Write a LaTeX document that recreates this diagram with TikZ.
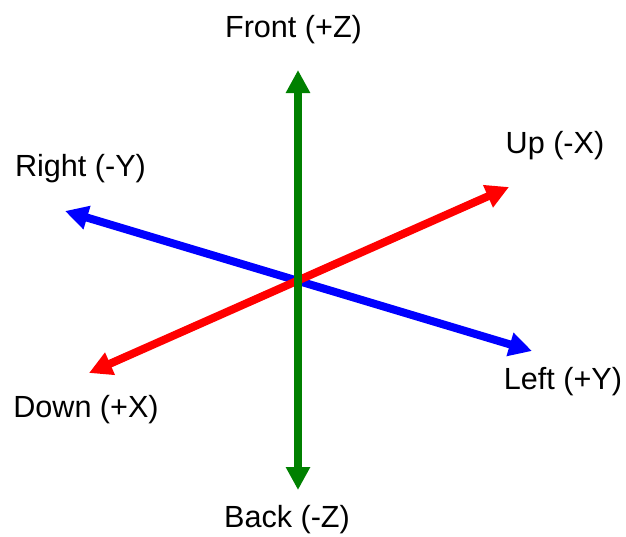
\documentclass[tikz,border=0pt]{standalone}
\usepackage{fontspec}
\setmainfont{Liberation Sans}
\usetikzlibrary{arrows.meta}
\definecolor{axgreen}{RGB}{0,128,0}

\begin{document}
\begin{tikzpicture}[x=1pt,y=-1pt,every node/.style={font=\fontsize{30.6}{36}\selectfont,anchor=base,inner sep=0pt},
  ax/.style={line width=8pt,{Triangle[length=23pt,width=23pt]}-{Triangle[length=23pt,width=23pt]}}]
\useasboundingbox (0,0) rectangle (626,536);
%------------- axis ends
\coordinate (front) at (298,70);  \coordinate (back) at (298,490);
\coordinate (right) at (65,211);  \coordinate (left) at (532,351);
\coordinate (down) at (89,373);   \coordinate (up) at (509,187);
%------------- axes
\draw[ax,blue] (right) -- (left);
\draw[ax,red] (down) -- (up);
\draw[ax,axgreen] (front) -- (back);
%------------- labels
\node (lfront) at (293.5,37) {Front (+Z)};
\node (lback) at (287,527) {Back (-Z)};
\node (lright) at (80.5,176) {Right (-Y)};
\node (lup) at (555,153) {Up (-X)};
\node (ldown) at (86,417) {Down (+X)};
\node (lleft) at (563,389) {Left (+Y)};
\end{tikzpicture}
\end{document}
